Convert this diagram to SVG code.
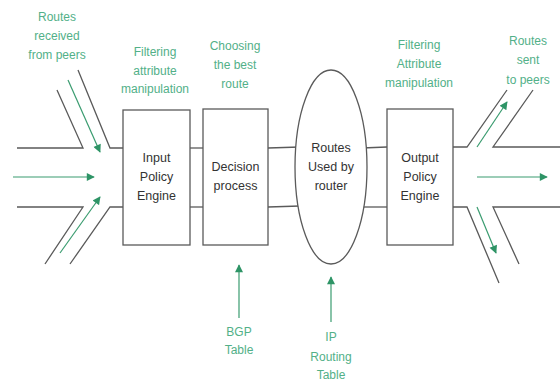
<svg xmlns="http://www.w3.org/2000/svg" width="560" height="382" viewBox="0 0 560 382">
<defs>
<marker id="ah" viewBox="0 0 10 10" refX="9" refY="5" markerWidth="9" markerHeight="8" markerUnits="userSpaceOnUse" orient="auto">
<path d="M0,0 L10,5 L0,10 z" fill="#2e9466"/>
</marker>
<style>
.ln{fill:none;stroke:#5a5a5a;stroke-width:1.3}
.bx{fill:#fff;stroke:#5a5a5a;stroke-width:1.3}
.ga{fill:none;stroke:#3a9c70;stroke-width:1.2;marker-end:url(#ah)}
.t{font-family:"Liberation Sans",Arial,sans-serif;font-size:12.5px;text-anchor:middle;fill:#333}
.g{font-family:"Liberation Sans",Arial,sans-serif;font-size:12px;text-anchor:middle;fill:#52b088}
</style>
</defs>
<rect width="560" height="382" fill="#fff"/>
<g id="connectors">
<!-- left inputs -->
<polyline class="ln" points="17,148 83,148 57,90"/>
<polyline class="ln" points="78,70 110,148 123,148"/>
<polyline class="ln" points="17,207 83,207 45,264"/>
<polyline class="ln" points="70,264 110,207 123,207"/>
<line class="ga" x1="68" y1="80" x2="100" y2="152"/>
<line class="ga" x1="13" y1="177" x2="94" y2="177"/>
<line class="ga" x1="60" y1="253" x2="100" y2="197"/>
<!-- between nodes -->
<line class="ln" x1="190" y1="148" x2="203" y2="148"/>
<line class="ln" x1="190" y1="207" x2="203" y2="207"/>
<line class="ln" x1="268" y1="148" x2="300" y2="147"/>
<line class="ln" x1="268" y1="207" x2="300" y2="206"/>
<line class="ln" x1="362" y1="148" x2="387" y2="147"/>
<line class="ln" x1="362" y1="207" x2="387" y2="207"/>
<!-- right outputs -->
<polyline class="ln" points="453,147 467,147 507,90"/>
<polyline class="ln" points="533,90 493,147 560,147"/>
<polyline class="ln" points="453,207 467,207 499,283"/>
<polyline class="ln" points="519,264 493,207 560,207"/>
<line class="ga" x1="477" y1="147" x2="507" y2="102"/>
<line class="ga" x1="477" y1="177" x2="547" y2="177"/>
<line class="ga" x1="477" y1="207" x2="496" y2="253"/>
<!-- table arrows -->
<line class="ga" x1="239" y1="318" x2="239" y2="265"/>
<line class="ga" x1="331" y1="322" x2="331" y2="277"/>
</g>
<g id="input-policy-engine">
<rect class="bx" x="123" y="110" width="67" height="135"/>
<text class="t" x="156.5" y="162">Input</text>
<text class="t" x="156.5" y="181">Policy</text>
<text class="t" x="156.5" y="200">Engine</text>
</g>
<g id="decision-process">
<rect class="bx" x="203" y="109" width="65" height="136"/>
<text class="t" x="235.5" y="171">Decision</text>
<text class="t" x="235.5" y="190">process</text>
</g>
<g id="routes-used">
<ellipse class="bx" cx="331" cy="167" rx="36" ry="97"/>
<text class="t" x="331" y="152">Routes</text>
<text class="t" x="331" y="171">Used by</text>
<text class="t" x="331" y="190">router</text>
</g>
<g id="output-policy-engine">
<rect class="bx" x="387" y="109" width="66" height="136"/>
<text class="t" x="420" y="162">Output</text>
<text class="t" x="420" y="181">Policy</text>
<text class="t" x="420" y="200">Engine</text>
</g>
<g id="labels">
<text class="g" x="57" y="21">Routes</text>
<text class="g" x="57" y="40">received</text>
<text class="g" x="57" y="59">from peers</text>
<text class="g" x="155" y="56">Filtering</text>
<text class="g" x="155" y="75">attribute</text>
<text class="g" x="155" y="93">manipulation</text>
<text class="g" x="235" y="50">Choosing</text>
<text class="g" x="235" y="69">the best</text>
<text class="g" x="235" y="88">route</text>
<text class="g" x="419" y="49">Filtering</text>
<text class="g" x="419" y="68">Attribute</text>
<text class="g" x="419" y="87">manipulation</text>
<text class="g" x="528" y="45">Routes</text>
<text class="g" x="528" y="64">sent</text>
<text class="g" x="528" y="84">to peers</text>
<text class="g" x="239" y="336">BGP</text>
<text class="g" x="239" y="354">Table</text>
<text class="g" x="331" y="341">IP</text>
<text class="g" x="331" y="361">Routing</text>
<text class="g" x="331" y="379">Table</text>
</g>
</svg>
